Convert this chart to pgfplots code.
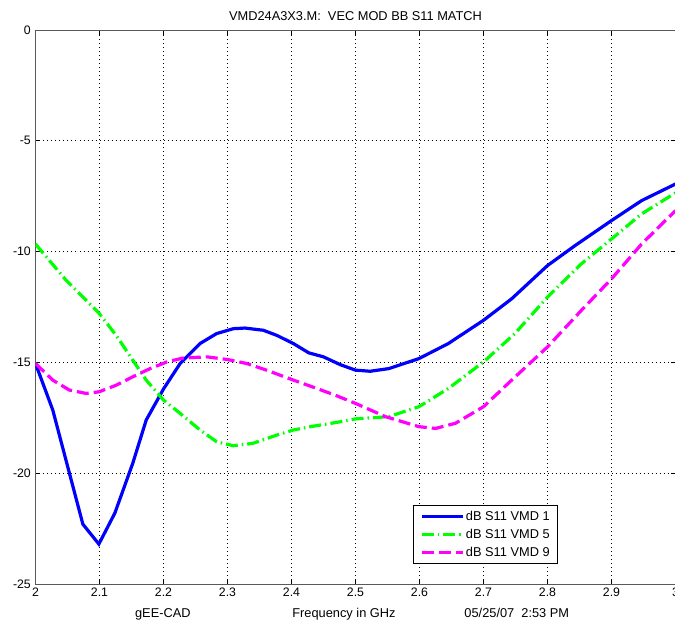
\documentclass[border=0pt]{standalone}
\usepackage{fontspec}
\setmainfont{Liberation Sans}
\usepackage{pgfplots}
\usetikzlibrary{calc}
\pgfplotsset{compat=1.18}
\definecolor{mblue}{RGB}{0,0,255}
\definecolor{mgreen}{RGB}{0,255,0}
\definecolor{mmag}{RGB}{255,0,255}
\newcommand{\tf}{\fontsize{12.3}{14}\selectfont}
\newcommand{\lf}{\fontsize{12.8}{15}\selectfont}
\begin{document}
\begin{tikzpicture}
\begin{axis}[
  name=ax,
  scale only axis, width=640pt, height=554pt,
  xmin=2, xmax=3, ymin=-25, ymax=0,
  xtick={2,2.1,2.2,2.3,2.4,2.5,2.6,2.7,2.8,2.9,3},
  xticklabels={2,2.1,2.2,2.3,2.4,2.5,2.6,2.7,2.8,2.9,3},
  ytick={-25,-20,-15,-10,-5,0},
  yticklabels={-25,-20,-15,-10,-5,0},
  tick align=inside, xtick pos=both, ytick pos=both,
  major tick length=5pt,
  tick style={black, line width=0.7pt},
  axis line style={black!65, line width=0.8pt},
  grid=major,
  grid style={black, line width=0.6pt, dash pattern=on 1pt off 3pt},
  ticklabel style={font=\tf},
  xticklabel style={inner sep=0pt, yshift=-4pt},
  yticklabel style={inner sep=0pt, xshift=-4.5pt},
  legend cell align=left,
  legend style={at={(rel axis cs:0.8164,0.036)}, anchor=south east,
    draw=black, line width=0.6pt, fill=white, font=\lf,
    inner xsep=6.5pt, inner ysep=4pt, row sep=4.5pt,
    nodes={inner sep=1.5pt}},
  legend image code/.code={\draw[#1] (0pt,0pt) -- (41pt,0pt);},
]
\addplot[mblue, line width=3.2pt] coordinates {
(2.000,-15.05) (2.027,-17.15) (2.074,-22.3) (2.099,-23.2) (2.124,-21.8)
(2.152,-19.55) (2.173,-17.6) (2.200,-16.2) (2.226,-15.05) (2.257,-14.15)
(2.283,-13.7) (2.309,-13.48) (2.327,-13.45) (2.356,-13.55) (2.377,-13.78)
(2.403,-14.15) (2.427,-14.57) (2.450,-14.75) (2.476,-15.1) (2.500,-15.35)
(2.523,-15.4) (2.552,-15.28) (2.599,-14.83) (2.645,-14.15) (2.700,-13.1)
(2.744,-12.13) (2.800,-10.63) (2.843,-9.73) (2.900,-8.6) (2.947,-7.7)
(3.000,-6.95)};
\addlegendentry{dB S11 VMD 1}
\addplot[mgreen, line width=3.2pt, dash pattern=on 12pt off 4pt on 1.5pt off 4pt] coordinates {
(2.000,-9.66) (2.048,-11.3) (2.099,-12.77) (2.126,-13.78) (2.152,-14.9)
(2.173,-15.8) (2.200,-16.7) (2.226,-17.3) (2.257,-18.05) (2.283,-18.58)
(2.309,-18.76) (2.340,-18.65) (2.377,-18.28) (2.403,-18.05) (2.430,-17.9)
(2.476,-17.68) (2.500,-17.55) (2.552,-17.45) (2.599,-17.0) (2.645,-16.18)
(2.700,-14.98) (2.749,-13.7) (2.800,-12.05) (2.853,-10.55) (2.900,-9.43)
(2.947,-8.3) (3.000,-7.35)};
\addlegendentry{dB S11 VMD 5}
\addplot[mmag, line width=3.2pt, dash pattern=on 12pt off 5pt] coordinates {
(2.000,-15.05) (2.027,-15.8) (2.053,-16.25) (2.079,-16.4) (2.099,-16.33)
(2.126,-16.03) (2.152,-15.65) (2.179,-15.28) (2.205,-14.98) (2.231,-14.8)
(2.268,-14.75) (2.300,-14.87) (2.330,-15.05) (2.361,-15.35) (2.403,-15.8)
(2.440,-16.18) (2.470,-16.5) (2.500,-16.85) (2.547,-17.45) (2.599,-17.9)
(2.625,-17.98) (2.656,-17.75) (2.700,-17.0) (2.744,-15.8) (2.800,-14.3)
(2.853,-12.65) (2.900,-11.23) (2.947,-9.66) (3.000,-8.15)};
\addlegendentry{dB S11 VMD 9}
\coordinate (SW) at (rel axis cs:0,0);
\coordinate (NE) at (rel axis cs:1,1);
\end{axis}
\node[anchor=base, font=\lf, inner sep=0pt] at ($(SW)!0.5!(SW -| NE) + (0,554pt) + (0,9.3pt)$) {VMD24A3X3.M:\ \ VEC MOD BB S11 MATCH};
\node[anchor=base, font=\lf, inner sep=0pt] at ($(SW)!0.199!(SW -| NE) + (0,-34pt)$) {gEE-CAD};
\node[anchor=base, font=\lf, inner sep=0pt] at ($(SW)!0.482!(SW -| NE) + (0,-34pt)$) {Frequency in GHz};
\node[anchor=base, font=\lf, inner sep=0pt] at ($(SW)!0.752!(SW -| NE) + (0,-34pt)$) {05/25/07\ \ 2:53 PM};
\pgfresetboundingbox
\path[use as bounding box] ([xshift=-35.5pt,yshift=-36.7pt]SW) rectangle ([xshift=-0.5pt,yshift=30pt]NE);
\end{tikzpicture}
\end{document}
